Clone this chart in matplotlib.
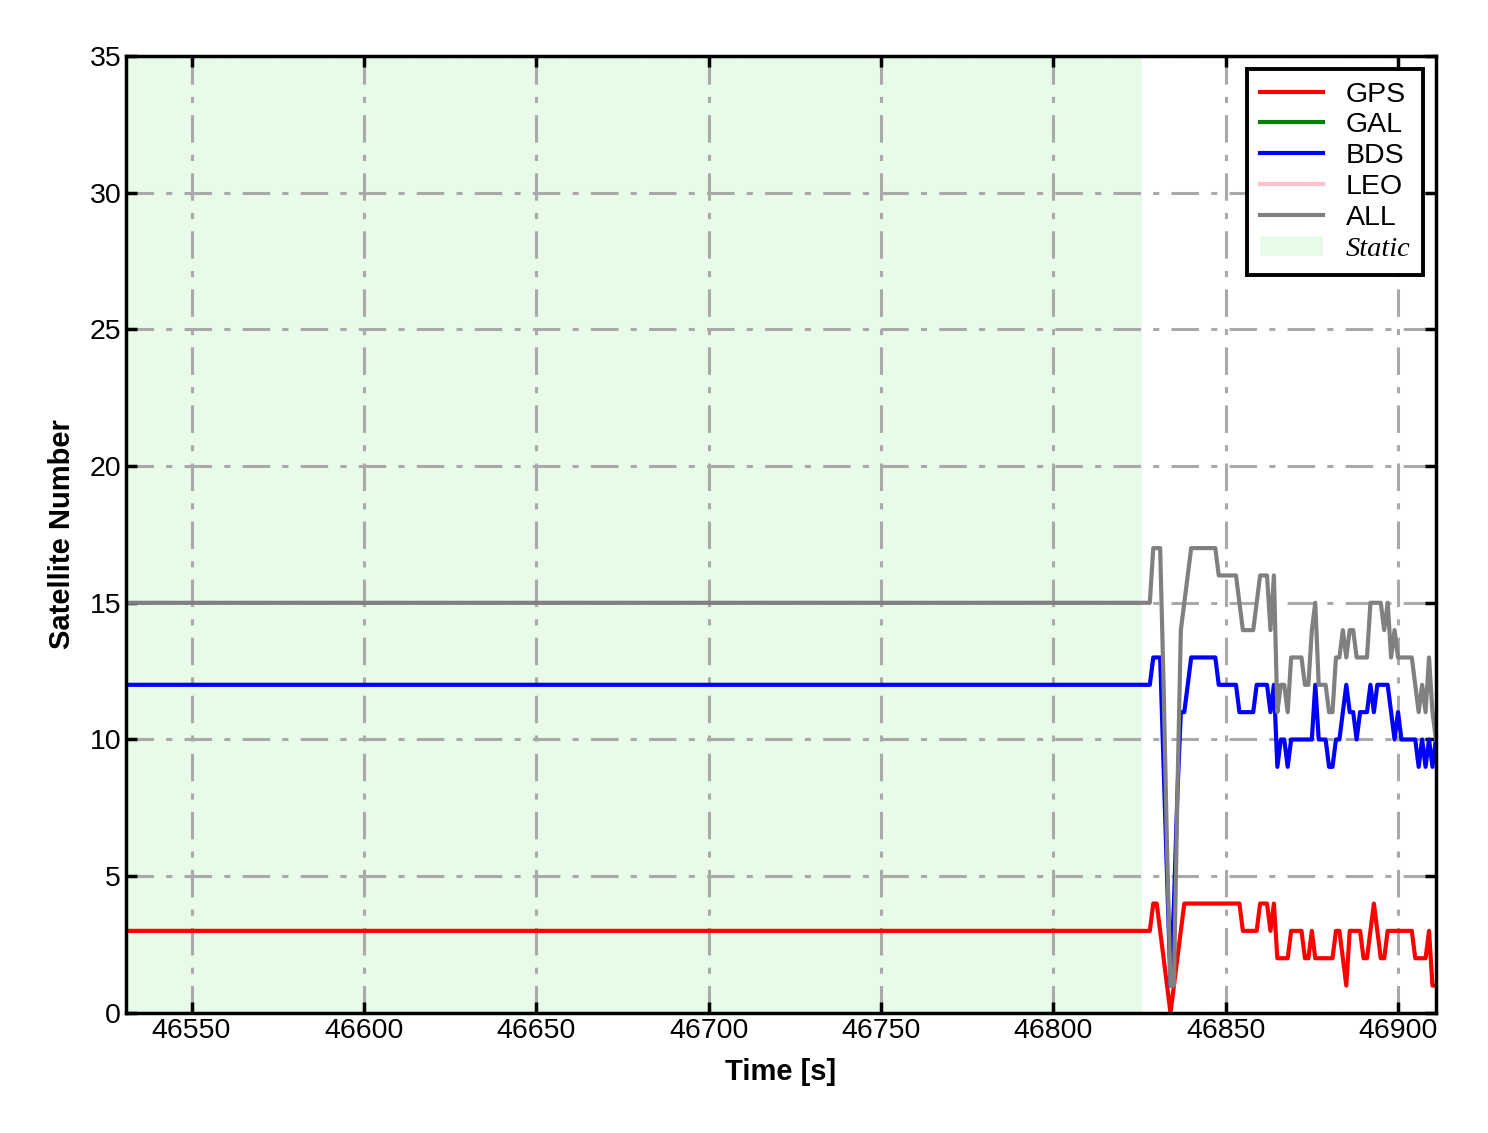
import numpy as np
import matplotlib
matplotlib.use('Agg')
import matplotlib.pyplot as plt

plt.rcParams['font.family'] = ['Liberation Sans', 'DejaVu Sans']

# time axis (1 s epochs)
t_first = 46520
t_dyn_start = 46828
t_last = 46911
static_end = 46825.7

# static period: constant counts
gps_static = 3
bds_static = 12
all_static = 15

# kinematic period, one value per second from 46828 to 46911
gps_dyn = [3, 4, 4, 3, 2, 1, 0, 1, 2, 3,
           4, 4, 4, 4, 4, 4, 4, 4, 4, 4, 4, 4, 4, 4, 4, 4, 4,
           3, 3, 3, 3, 3, 4, 4, 4, 3, 4,
           2, 2, 2, 2, 3, 3, 3, 3, 2, 2, 3, 2,
           2, 2, 2, 2, 2, 3, 3, 2, 1, 3, 3, 3, 3,
           2, 2, 3, 4, 3, 2, 2,
           3, 3, 3, 3, 3, 3, 3, 3,
           2, 2, 2, 2, 3, 1, 1]

bds_dyn = [12, 13, 13, 13, 9, 5, 1, 4, 8, 11, 11, 12,
           13, 13, 13, 13, 13, 13, 13, 13,
           12, 12, 12, 12, 12, 12,
           11, 11, 11, 11, 11,
           12, 12, 12, 12, 11, 12, 9, 10, 10, 9,
           10, 10, 10, 10, 10, 10, 10,
           12, 10, 10, 10, 9, 9, 10, 10, 11, 12, 11, 11,
           10, 11, 11, 11, 12, 11, 12, 12, 12, 12,
           11, 10, 11, 10, 10, 10, 10, 10,
           9, 10, 9, 10, 9, 10]

all_dyn = [15, 17, 17, 17, 12, 6, 1, 1, 8, 14, 15, 16,
           17, 17, 17, 17, 17, 17, 17, 17,
           16, 16, 16, 16, 16, 16,
           15, 14, 14, 14, 14,
           15, 16, 16, 16, 14, 16, 11, 12, 12, 11,
           13, 13, 13, 13, 12, 12, 14, 15,
           12, 12, 12, 11, 11, 13, 13, 14, 13, 14, 14,
           13, 13, 13, 13, 15, 15, 15, 15,
           14, 15, 13, 14, 13, 13, 13, 13, 13,
           12, 11, 12, 11, 13, 11, 10]

n_static = t_dyn_start - t_first
t = np.arange(t_first, t_last + 1)
gps = np.array([gps_static] * n_static + gps_dyn)
bds = np.array([bds_static] * n_static + bds_dyn)
alls = np.array([all_static] * n_static + all_dyn)

fig = plt.figure(figsize=(14.88, 11.33), dpi=100)
ax = fig.add_axes([0.0847, 0.106, 0.8803, 0.8446])

ax.axvspan(t_first, static_end, color='lightgreen', alpha=0.2, lw=0, label='Static')
ax.plot(t, gps, color='red', lw=3, label='GPS')
ax.plot([], [], color='green', lw=3, label='GAL')
ax.plot(t, bds, color='blue', lw=3, label='BDS')
ax.plot([], [], color='pink', lw=3, label='LEO')
ax.plot(t, alls, color='gray', lw=3, label='ALL')

ax.set_xlim(46531, 46911)
ax.set_ylim(0, 35)
ax.set_xticks(np.arange(46550, 46901, 50))
ax.set_yticks(np.arange(0, 36, 5))
ax.grid(True, color='darkgray', linestyle='-.', lw=2.2, dashes=(9, 4, 2, 4))

ax.tick_params(direction='in', top=True, right=True, length=8, width=2.5, labelsize=20.5)
for s in ax.spines.values():
    s.set_linewidth(2.5)

ax.set_xlabel('Time [s]', fontsize=21, fontweight='bold', labelpad=10)
ax.set_ylabel('Satellite Number', fontsize=21, fontweight='bold', labelpad=10)

h, l = ax.get_legend_handles_labels()
order = [1, 2, 3, 4, 5, 0]
leg = ax.legend([h[i] for i in order], [l[i] for i in order], loc='upper right',
                fontsize=20.5, fancybox=False, edgecolor='black', framealpha=1,
                labelspacing=0.17, handlelength=2.2, borderaxespad=0.45,
                borderpad=0.45)
leg.get_frame().set_linewidth(2.8)
txt = leg.get_texts()[-1]
txt.set_fontfamily('Liberation Serif')
txt.set_fontstyle('italic')

fig.savefig('out.png', dpi=100)
